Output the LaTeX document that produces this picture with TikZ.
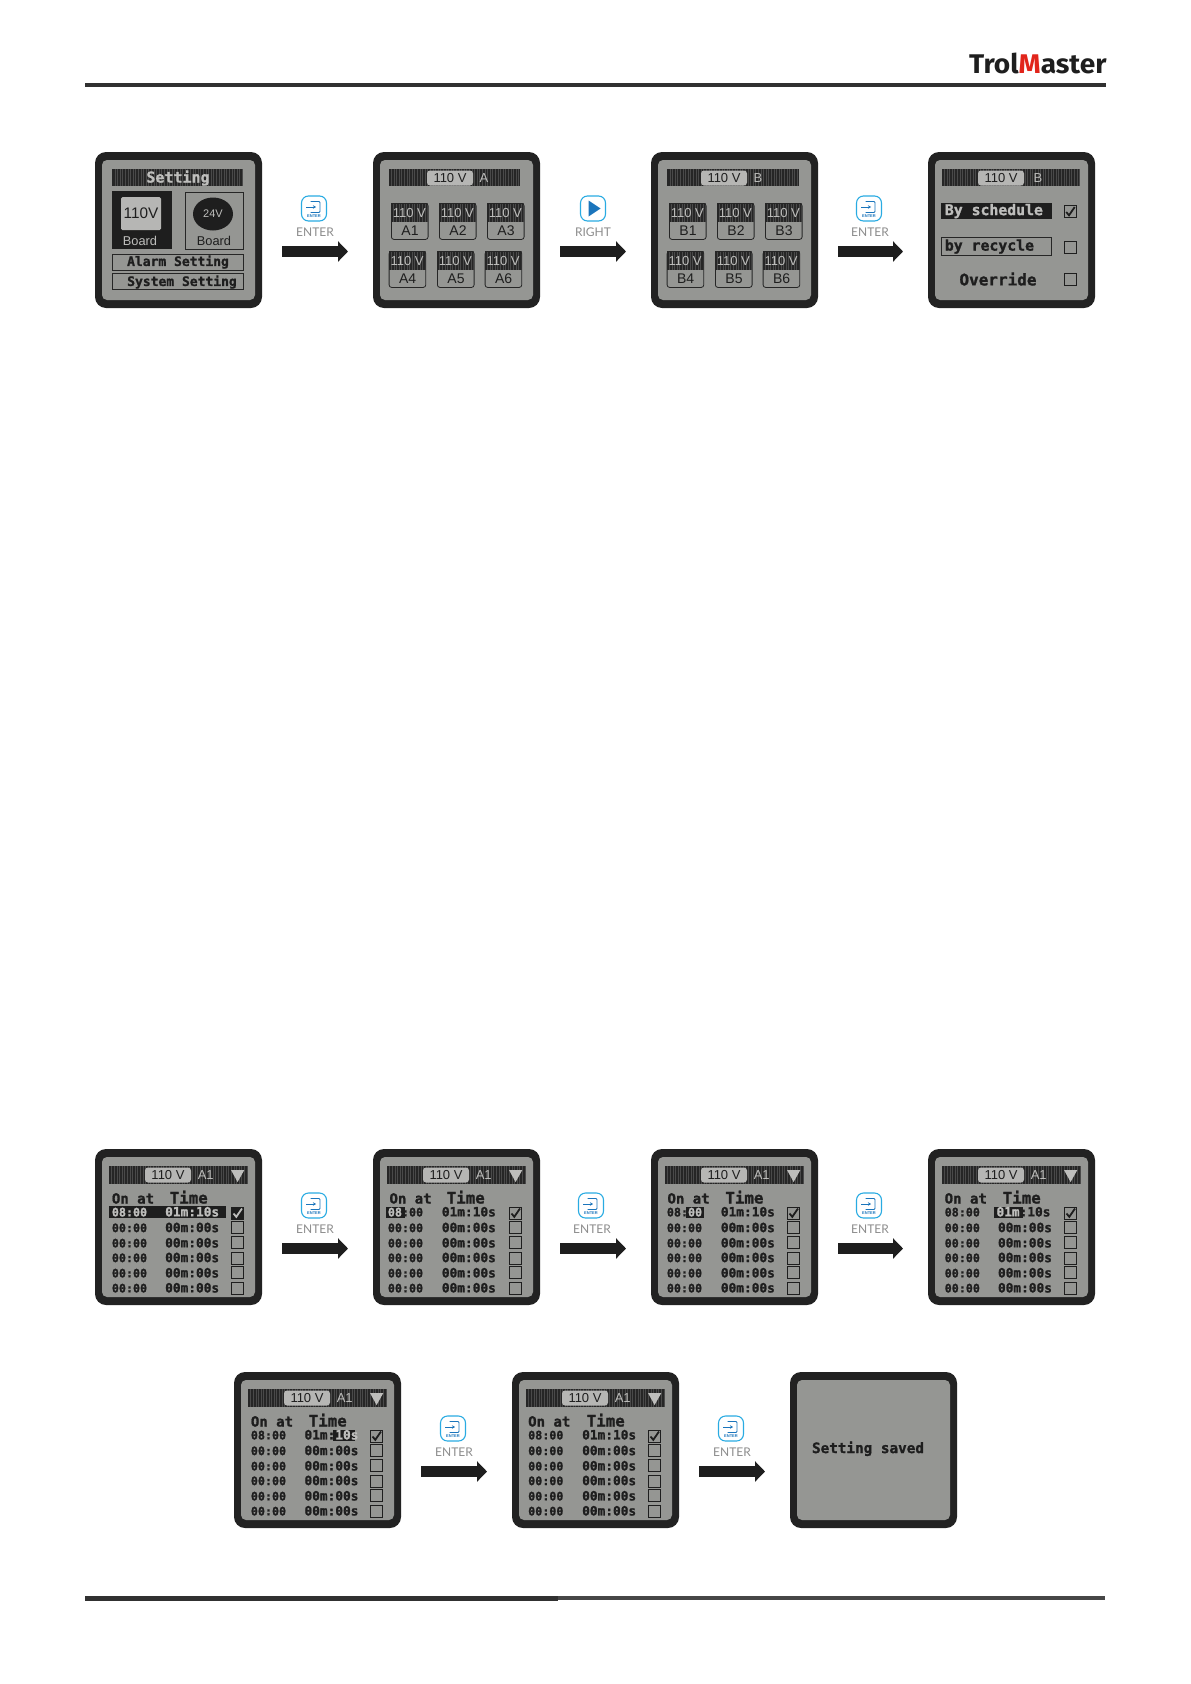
\documentclass[tikz,border=0pt]{standalone}
\usepackage{fontspec}
\usetikzlibrary{arrows.meta,shapes.geometric}
\newfontfamily\ftArial{Liberation Sans}
\newfontfamily\ftLcd{DejaVu Sans Mono}[BoldFeatures={FakeBold=1.3}]
\newfontfamily\ftLato{Lato}
\newfontfamily\ftLogo{Fira Sans}
\newcommand{\fs}[1]{\fontsize{#1}{#1}\selectfont}
\definecolor{bezelc}{HTML}{222222}
\definecolor{panelc}{HTML}{959693}
\definecolor{darkc}{HTML}{262626}
\definecolor{stripec}{HTML}{4A4A4A}
\definecolor{lightc}{HTML}{BEBEBC}
\definecolor{pillc}{HTML}{B6B6B4}
\definecolor{inkc}{HTML}{1E1E1E}
\definecolor{cyanc}{HTML}{29ABE2}
\definecolor{bluec}{HTML}{1B75BC}
\definecolor{logored}{HTML}{E1251B}
\tikzset{
  bezel/.style={rectangle,fill=bezelc,rounded corners=11pt,minimum width=167pt,minimum height=156pt,inner sep=0pt,outer sep=0pt},
  lcdpanel/.style={rectangle,fill=panelc,rounded corners=5pt,minimum width=153pt,minimum height=140pt,inner sep=0pt,outer sep=0pt},
  pillbox/.style={rectangle,fill=pillc,rounded corners=3pt,minimum width=46pt,minimum height=15pt,inner sep=0pt,text=inkc,font=\ftArial\fs{13}},
  hdrtxt/.style={inner sep=0pt,text=lightc,font=\ftArial\fs{13}},
  lcdtxt/.style={inner sep=0pt,text=inkc,font=\ftLcd\bfseries\fs{13}},
  lcdhead/.style={lcdtxt,anchor=base west,font=\ftLcd\bfseries\fs{14}},
  lcdtime/.style={lcdtxt,anchor=base west,font=\ftLcd\bfseries\fs{15.8}},
  col1/.style={lcdtxt,anchor=base west,font=\ftLcd\bfseries\fs{11.7}},
  col2/.style={lcdtxt,anchor=base west,font=\ftLcd\bfseries\fs{12.8}},
  tickbox/.style={rectangle,draw=inkc,line width=0.9pt,minimum width=12pt,minimum height=12pt,inner sep=0pt},
  tick/.style={line width=1.8pt,line join=miter},
  bigarrow/.style={draw=inkc,line width=11pt,-{Triangle[length=10pt,width=20pt,fill=inkc]}},
  iconbox/.style={rectangle,draw=cyanc,line width=1.1pt,rounded corners=7pt,minimum width=25pt,minimum height=25pt,inner sep=0pt,fill=white},
  iconlabel/.style={inner sep=0pt,text=black!45,font=\ftLato\fs{12}},
  tileframe/.style={rectangle,draw=darkc,line width=0.8pt,rounded corners=2.5pt,minimum width=36.7pt,minimum height=36pt,inner sep=0pt},
  framebox/.style={rectangle,draw=darkc,line width=0.8pt,inner sep=0pt},
}
% a striped dark bar
\newcommand{\stripebar}[4]{%
  \fill[darkc] (#1,#2) rectangle (#3,#4);
  \pgfmathsetmacro\nbars{int((#3-#1)/2.6)}
  \foreach \i in {1,...,\nbars}{\draw[stripec,line width=0.6pt] ({#1+\i*2.6},#2) -- ({#1+\i*2.6},#4);}
}
% a screen: name, left, top, contents
\newcommand{\lcdscreen}[4]{%
  \node[bezel] (#1) at ({#2+83.5},{#3+78}) {};
  \node[lcdpanel] (#1-lcd) at ({#2+83.5},{#3+78}) {};
  \begin{scope}[shift={(#2,#3)},name prefix=#1-]
  #4
  \end{scope}
}
\newcommand{\flow}[2]{\draw[bigarrow] ([xshift=20pt,yshift=-21.5pt]#1.east) -- ([xshift=-25pt,yshift=-21.5pt]#2.west);}
\newcommand{\entericon}[3]{%
  \begin{scope}[shift={(#2,#3)},name prefix=#1-]
  \node[iconbox] (box) at (0,0) {};
  \draw[bluec,line width=0.8pt,rounded corners=1pt] (-3.5,-7) -- (6,-7) -- (6,4) -- (-3.5,4);
  \draw[bluec,line width=0.9pt,-{Stealth[length=3pt,width=3.5pt]}] (-8,-1.5) -- (2,-1.5);
  \node[inner sep=0pt,text=bluec,font=\ftArial\bfseries\fs{4}] (small) at (0,8) {ENTER};
  \node[iconlabel] (label) at (1,23.5) {ENTER};
  \end{scope}
}
\newcommand{\tile}[4]{% name, x, y, label
  \stripebar{#2}{#3}{#2+36.7}{#3+19}
  \node[tileframe,anchor=north west] (#1) at (#2,#3) {};
  \node[inner sep=0pt,text=lightc,font=\ftArial\fs{13}] (#1-v) at ({#2+18.4},{#3+10.5}) {110 V};
  \node[inner sep=0pt,text=inkc,font=\ftArial\fs{14}] (#1-l) at ({#2+19},{#3+28}) {#4};
}
\newcommand{\tilesets}[1]{%
  \tile{t1}{18}{51}{#11}\tile{t2}{66}{51}{#12}\tile{t3}{114}{51}{#13}
  \tile{t4}{15.7}{99}{#14}\tile{t5}{64}{99}{#15}\tile{t6}{111.7}{99}{#16}
}
\newcommand{\tickat}[3]{\draw[tick,#3] ({#1-4},{#2+0.5}) -- ({#1-1.2},{#2+3.8}) -- ({#1+4.5},{#2-4.5});}
% table screen pieces: on-x, time-x, col1-x, col2-x
\newcommand{\tablehead}[2]{%
  \stripebar{14}{17}{152}{35}
  \node[pillbox] (pill) at (73,26) {110 V};
  \node[hdrtxt] (tag) at (110.7,26.5) {A1};
  \fill[lightc] (136,21) -- (149.3,21) -- (142.6,33) -- cycle;
  \node[lcdhead] (on) at (#1,54.5) {On at};
  \node[lcdtime] (time) at (#2,54.5) {Time};
}
\newcommand{\tablerows}[2]{%
  \foreach \r/\ry/\by in {2/78.7/78,3/94/93.5,4/108.7/109,5/124/123.5,6/139/139}{
    \node[col1] (a\r) at (#1,\ry+4.4) {00:00};
    \node[col2] (b\r) at (#2,\ry+4.4) {00m:00s};
    \node[tickbox] (c\r) at (142.5,\by) {};
  }
  \node[tickbox] (c1) at (142.5,64) {};
}
\begin{document}
\begin{tikzpicture}[x=1pt,y=-1pt]
\useasboundingbox (0,0) rectangle (1191,1684);
% header and footer
\node[inner sep=0pt,anchor=base west,text=inkc,xscale=1.04] (logo) at (969,73) {\ftLogo\bfseries\fs{27}Trol\textcolor{logored}{M}aster};
\fill[darkc!95!white] (85,82.7) rectangle (1106,86.7);
\fill[darkc!95!white] (85,1596) rectangle (558,1600.7);
\fill[darkc!85!white] (558,1596) rectangle (1105,1600);
% ---- top row ----
\lcdscreen{s1}{95}{152}{
  \stripebar{17.3}{17}{148}{34}
  \node[lcdtxt,text=lightc,font=\ftLcd\bfseries\fs{15}] (title) at (83,26) {Setting};
  \fill[inkc] (17.3,39.3) rectangle (77,97);
  \node[rectangle,fill=pillc,rounded corners=1.5pt,minimum width=40pt,minimum height=33pt,inner sep=0pt,text=inkc,font=\ftArial\fs{15.3}] (v110) at (46,61.5) {110V};
  \node[inner sep=0pt,text=lightc,font=\ftArial\fs{12.8}] (b110) at (45,89) {Board};
  \draw[framebox] (90,40) rectangle (148,97);
  \node[ellipse,fill=inkc,minimum width=40pt,minimum height=33pt,inner sep=0pt,text=lightc,font=\ftArial\fs{11}] (v24) at (118,62) {24V};
  \node[inner sep=0pt,text=inkc,font=\ftArial\fs{12.8}] (b24) at (119,89) {Board};
  \draw[framebox] (17.3,102) rectangle (148,118);
  \node[lcdtxt] (alarm) at (83,110) {Alarm Setting};
  \draw[framebox] (17.3,121) rectangle (148,137);
  \node[lcdtxt] (system) at (87,130) {System Setting};
}
\lcdscreen{s2}{373}{152}{
  \stripebar{15.7}{17}{147.3}{34}
  \node[pillbox] (pill) at (77,26) {110 V};
  \node[hdrtxt] (tag) at (111,26.5) {A};
  \tilesets{A}
}
\lcdscreen{s3}{651}{152}{
  \stripebar{16.3}{17}{148}{34}
  \node[pillbox] (pill) at (73,26) {110 V};
  \node[hdrtxt] (tag) at (107,26.5) {B};
  \tilesets{B}
}
\lcdscreen{s4}{928}{152}{
  \stripebar{13.7}{17}{151.7}{34}
  \node[pillbox] (pill) at (73,26) {110 V};
  \node[hdrtxt] (tag) at (110,26.5) {B};
  \fill[inkc] (13,50.7) rectangle (123.7,67);
  \node[lcdtxt,anchor=west,text=lightc,font=\ftLcd\bfseries\fs{14.8}] (sched) at (16.7,59) {By schedule};
  \draw[framebox] (13,85.7) rectangle (123.7,103);
  \node[lcdtxt,anchor=west,font=\ftLcd\bfseries\fs{14.8}] (recyc) at (16.7,94.5) {by recycle};
  \node[lcdtxt,font=\ftLcd\bfseries\fs{16}] (over) at (70,127) {Override};
  \node[tickbox] (c1) at (142.2,59.5) {};
  \node[tickbox] (c2) at (142.2,95) {};
  \node[tickbox] (c3) at (142.2,127) {};
  \tickat{142.2}{59.5}{inkc}
}
\entericon{i1}{314}{208.5}
\flow{s1}{s2}
\begin{scope}[shift={(593,208.5)},name prefix=i2-]
  \node[iconbox] (box) at (0,0) {};
  \fill[bluec] (-4.5,-8) -- (7.5,0) -- (-4.5,8) -- cycle;
  \node[iconlabel] (label) at (0,23.5) {RIGHT};
\end{scope}
\flow{s2}{s3}
\entericon{i3}{869}{208.5}
\flow{s3}{s4}
% ---- second row ----
\lcdscreen{s5}{95}{1149}{
  \tablehead{16.7}{74.5}
  \fill[inkc] (14,57) rectangle (131,69);
  \node[col1,text=lightc] (a1) at (16.7,67.4) {08:00};
  \node[col2,text=lightc] (b1) at (70,67.4) {01m:10s};
  \tablerows{16.7}{70}
  \fill[inkc] (136.5,58) rectangle (148.5,70);
  \tickat{142.5}{64}{lightc}
}
\lcdscreen{s6}{373}{1149}{
  \tablehead{16.3}{73.5}
  \fill[inkc] (13,57.7) rectangle (31.7,69);
  \node[col1] (a1) at (14.7,67.4) {\textcolor{lightc}{08}:00};
  \node[col2] (b1) at (68.7,67.4) {01m:10s};
  \tablerows{14.7}{68.7}
  \tickat{142.5}{64}{inkc}
}
\lcdscreen{s7}{651}{1149}{
  \tablehead{16.3}{74.2}
  \fill[inkc] (35,57.7) rectangle (53,69);
  \node[col1] (a1) at (15.7,67.4) {08:\textcolor{lightc}{00}};
  \node[col2] (b1) at (69.7,67.4) {01m:10s};
  \tablerows{15.7}{69.7}
  \tickat{142.5}{64}{inkc}
}
\lcdscreen{s8}{928}{1149}{
  \tablehead{16.5}{74.5}
  \fill[inkc] (66,57.7) rectangle (95,69);
  \node[col1] (a1) at (16.5,67.4) {08:00};
  \node[col2] (b1) at (68.3,67.4) {\textcolor{lightc}{01m}:10s};
  \tablerows{16.5}{69.8}
  \tickat{142.5}{64}{inkc}
}
\entericon{i4}{314}{1205.5}
\flow{s5}{s6}
\entericon{i5}{591}{1205.5}
\flow{s6}{s7}
\entericon{i6}{869}{1205.5}
\flow{s7}{s8}
% ---- third row ----
\lcdscreen{s9}{234}{1372}{
  \tablehead{16.7}{74.5}
  \fill[inkc] (99,57.7) rectangle (121,69);
  \node[col1] (a1) at (16.7,67.4) {08:00};
  \node[col2] (b1) at (70.3,67.4) {01m:\textcolor{lightc}{10s}};
  \tablerows{16.7}{70.3}
  \tickat{142.5}{64}{inkc}
}
\lcdscreen{s10}{512}{1372}{
  \tablehead{16}{74.5}
  \node[col1] (a1) at (16,67.4) {08:00};
  \node[col2] (b1) at (70,67.4) {01m:10s};
  \tablerows{16}{70}
  \tickat{142.5}{64}{inkc}
}
\lcdscreen{s11}{790}{1372}{
  \node[lcdtxt,font=\ftLcd\bfseries\fs{14.3}] (saved) at (78,76.7) {Setting  saved};
}
\entericon{i7}{453}{1428.5}
\flow{s9}{s10}
\entericon{i8}{731}{1428.5}
\flow{s10}{s11}
\end{tikzpicture}
\end{document}
